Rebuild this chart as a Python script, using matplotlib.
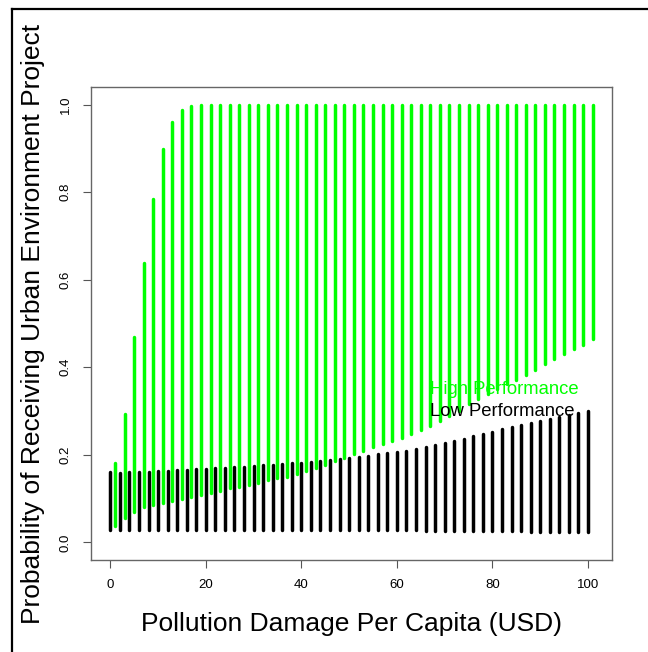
import matplotlib
matplotlib.use("Agg")
import matplotlib.pyplot as plt
from matplotlib.lines import Line2D

# low performance intervals (black)
low_x = [0, 2, 4, 6, 8, 10, 12, 14, 16, 18, 20, 22, 24, 26, 28, 30, 32, 34, 36, 38,
         40, 42, 44, 46, 48, 50, 52, 54, 56, 58, 60, 62, 64, 66, 68, 70, 72, 74, 76, 78,
         80, 82, 84, 86, 88, 90, 92, 94, 96, 98, 100]
low_hi = [0.160, 0.159, 0.160, 0.161, 0.162, 0.163, 0.164, 0.165, 0.166, 0.167,
          0.168, 0.169, 0.171, 0.172, 0.173, 0.175, 0.176, 0.178, 0.179, 0.181,
          0.182, 0.184, 0.186, 0.188, 0.190, 0.193, 0.195, 0.198, 0.201, 0.204,
          0.207, 0.210, 0.214, 0.219, 0.223, 0.228, 0.232, 0.237, 0.242, 0.248,
          0.253, 0.258, 0.263, 0.268, 0.273, 0.278, 0.283, 0.287, 0.291, 0.295, 0.300]
low_lo = [0.028, 0.028, 0.028, 0.028, 0.028, 0.028, 0.028, 0.028, 0.028, 0.028,
          0.028, 0.028, 0.028, 0.028, 0.028, 0.028, 0.028, 0.028, 0.028, 0.028,
          0.028, 0.028, 0.028, 0.028, 0.028, 0.028, 0.028, 0.028, 0.028, 0.028,
          0.028, 0.028, 0.028, 0.027, 0.027, 0.027, 0.027, 0.027, 0.027, 0.026,
          0.026, 0.026, 0.026, 0.026, 0.025, 0.025, 0.025, 0.025, 0.024, 0.024, 0.024]

# high performance intervals (green)
high_x = [1, 3, 5, 7, 9, 11, 13, 15, 17, 19, 21, 23, 25, 27, 29, 31, 33, 35, 37, 39,
          41, 43, 45, 47, 49, 51, 53, 55, 57, 59, 61, 63, 65, 67, 69, 71, 73, 75, 77, 79,
          81, 83, 85, 87, 89, 91, 93, 95, 97, 99, 101]
high_hi = [0.182, 0.294, 0.469, 0.638, 0.785, 0.898, 0.960, 0.987, 0.996, 0.999,
           0.999, 0.999, 0.999, 0.999, 0.999, 0.999, 0.999, 0.999, 0.999, 0.999,
           0.999, 0.999, 0.999, 0.999, 0.999, 0.999, 0.999, 0.999, 0.999, 0.999,
           0.999, 0.999, 0.999, 0.999, 0.999, 0.999, 0.999, 0.999, 0.999, 0.999,
           0.999, 0.999, 0.999, 0.999, 0.999, 0.999, 0.999, 0.999, 0.999, 0.999, 0.999]
high_lo = [0.038, 0.057, 0.070, 0.080, 0.085, 0.091, 0.095, 0.100, 0.103, 0.108,
           0.113, 0.118, 0.124, 0.127, 0.131, 0.136, 0.142, 0.147, 0.149, 0.156,
           0.164, 0.171, 0.178, 0.186, 0.194, 0.202, 0.209, 0.217, 0.224, 0.232,
           0.238, 0.247, 0.256, 0.266, 0.277, 0.289, 0.301, 0.316, 0.328, 0.340,
           0.350, 0.361, 0.372, 0.382, 0.394, 0.407, 0.418, 0.430, 0.441, 0.452, 0.464]

x_ticks = [0, 20, 40, 60, 80, 100]
y_ticks = [0.0, 0.2, 0.4, 0.6, 0.8, 1.0]
legend_labels = ["High Performance", "Low Performance"]

plt.rcParams['font.family'] = ['Liberation Sans', 'DejaVu Sans']

W, H = 648, 652
fig = plt.figure(figsize=(W / 100, H / 100), dpi=100)
ax = fig.add_axes([91 / W, 1 - 560 / H, (612 - 91) / W, (560 - 87) / H])

lc = ax.vlines(low_x, low_lo, low_hi, colors='black', linewidth=2.5)
lc.set_capstyle('round')
gc = ax.vlines(high_x, high_lo, high_hi, colors='#00FF00', linewidth=2.5)
gc.set_capstyle('round')

ax.set_xlim(-4.04, 105.04)
ax.set_ylim(-0.04, 1.04)
ax.set_xticks(x_ticks)
ax.set_xticklabels([str(v) for v in x_ticks])
ax.set_yticks(y_ticks)
ax.set_yticklabels([f"{v:.1f}" for v in y_ticks], rotation=90, va='center')
ax.tick_params(axis='both', length=6, width=0.8, color='#555555', labelsize=9.5, pad=8)

for s in ax.spines.values():
    s.set_color('#666666')
    s.set_linewidth(1)

ax.text(67, 0.339, legend_labels[0], color='#00FF00', fontsize=13.3, va='baseline')
ax.text(67, 0.289, legend_labels[1], color='black', fontsize=13.3, va='baseline')

fig.text(351.5 / W, 1 - 631 / H, "Pollution Damage Per Capita (USD)",
         fontsize=19, ha='center', va='baseline')
fig.text(40 / W, 1 - 324 / H, "Probability of Receiving Urban Environment Project",
         fontsize=19, ha='center', va='baseline', rotation=90, rotation_mode='anchor')

# outer frame, runs off the right and bottom edges
fig.add_artist(Line2D([12 / W, 12 / W], [1 - 9 / H, -0.05], color='black', lw=1.6,
                      transform=fig.transFigure))
fig.add_artist(Line2D([12 / W, 1.05], [1 - 9 / H, 1 - 9 / H], color='black', lw=1.6,
                      transform=fig.transFigure))

fig.savefig("out.png", dpi=100)
